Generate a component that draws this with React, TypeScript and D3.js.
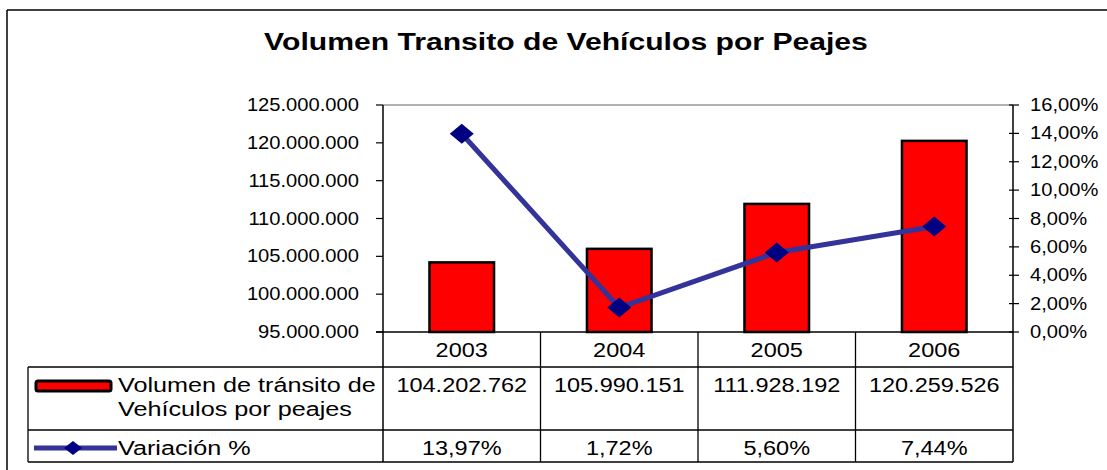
import React from 'react';
import { scaleBand, scaleLinear, line, formatLocale } from 'd3';

const years = ['2003', '2004', '2005', '2006'];
const volumen = [104202762, 105990151, 111928192, 120259526];
const variacion = [13.97, 1.72, 5.6, 7.44];
const leftTicks = [95e6, 100e6, 105e6, 110e6, 115e6, 120e6, 125e6];
const rightTicks = [0, 2, 4, 6, 8, 10, 12, 14, 16];

const title = 'Volumen Transito de Vehículos por Peajes';
const serieBar = ['Volumen de tránsito de', 'Vehículos por peajes'];
const serieLine = 'Variación %';

const es = formatLocale({
  decimal: ',',
  thousands: '.',
  grouping: [3],
  currency: ['$', ''],
});
const fmtInt = es.format(',d');
const fmtPct = (v) => es.format('.2f')(v) + '%';

const FONT = 'Arial, "Liberation Sans", Helvetica, sans-serif';

// text stretched horizontally around its anchor, like the source image
const T = ({ x, y, size, sx = 1.12, anchor = 'start', bold = false, children }) => (
  <text
    transform={`translate(${x},${y}) scale(${sx},1)`}
    textAnchor={anchor}
    fontFamily={FONT}
    fontSize={size}
    fontWeight={bold ? 'bold' : 'normal'}
    fill="#000"
  >
    {children}
  </text>
);

const Diamond = ({ cx, cy, rx, ry }) => (
  <path
    d={`M${cx - rx},${cy} L${cx},${cy - ry} L${cx + rx},${cy} L${cx},${cy + ry} Z`}
    fill="#000080"
  />
);

export default function App() {
  const W = 1107;
  const H = 470;
  const left = 383;
  const right = 1013;
  const top = 105;
  const bottom = 332;

  const x = scaleBand().domain(years).range([left, right]).padding(0);
  const yL = scaleLinear().domain([95e6, 125e6]).range([bottom, top]);
  const yR = scaleLinear().domain([0, 16]).range([bottom, top]);
  const barW = x.bandwidth() * 0.41;
  const cx = (d) => x(d) + x.bandwidth() / 2;

  const pts = years.map((d, i) => [cx(d), yR(variacion[i])]);
  const linePath = line()(pts);

  const rowHead = 367;
  const row1 = 430;
  const tBottom = 462;
  const tLeft = 28;

  return (
    <div style={{ position: 'absolute', left: 0, top: 0 }}>
      <svg width={W} height={H} style={{ display: 'block', background: '#fff' }}>
        {/* outer frame */}
        <line x1={7} y1={10} x2={W} y2={10} stroke="#000" strokeWidth={1.5} />
        <line x1={7} y1={10} x2={7} y2={H} stroke="#000" strokeWidth={1.5} />

        <T x={566} y={50} size={23} sx={1.31} anchor="middle" bold>
          {title}
        </T>

        {/* plot frame top */}
        <line x1={left} y1={top} x2={right} y2={top} stroke="#999" strokeWidth={1.5} />

        {/* bars */}
        {years.map((d, i) => (
          <rect
            key={d}
            x={cx(d) - barW / 2}
            y={yL(volumen[i])}
            width={barW}
            height={bottom - yL(volumen[i])}
            fill="#ff0000"
            stroke="#000"
            strokeWidth={2.5}
          />
        ))}

        {/* left axis */}
        <line x1={left} y1={top} x2={left} y2={tBottom} stroke="#000" strokeWidth={1.5} />
        {leftTicks.map((t) => (
          <g key={t}>
            <line x1={left - 7} x2={left} y1={yL(t)} y2={yL(t)} stroke="#000" strokeWidth={1.2} />
            <T x={359} y={yL(t) + 6} size={18} anchor="end">
              {fmtInt(t)}
            </T>
          </g>
        ))}

        {/* right axis */}
        <line x1={right} y1={top} x2={right} y2={tBottom} stroke="#000" strokeWidth={1.5} />
        {rightTicks.map((t) => (
          <g key={t}>
            <line x1={right - 4} x2={right + 6} y1={yR(t)} y2={yR(t)} stroke="#000" strokeWidth={1.2} />
            <T x={1030} y={yR(t) + 6} size={18}>
              {fmtPct(t)}
            </T>
          </g>
        ))}

        {/* x axis / table top */}
        <line x1={left - 7} y1={bottom} x2={right} y2={bottom} stroke="#000" strokeWidth={1.5} />

        {/* line series */}
        <path d={linePath} fill="none" stroke="#333399" strokeWidth={5} />
        {pts.map((p, i) => (
          <Diamond key={i} cx={p[0]} cy={p[1]} rx={12} ry={10} />
        ))}

        {/* data table */}
        {[rowHead, row1, tBottom].map((yy) => (
          <line key={yy} x1={tLeft} y1={yy} x2={right} y2={yy} stroke="#000" strokeWidth={1.3} />
        ))}
        <line x1={tLeft} y1={rowHead} x2={tLeft} y2={tBottom} stroke="#000" strokeWidth={1.3} />
        {years.slice(1).map((d) => (
          <line key={d} x1={x(d)} y1={bottom} x2={x(d)} y2={tBottom} stroke="#000" strokeWidth={1.3} />
        ))}

        {years.map((d, i) => (
          <g key={d}>
            <T x={cx(d)} y={357} size={21} anchor="middle">
              {d}
            </T>
            <T x={cx(d)} y={392} size={21} anchor="middle">
              {fmtInt(volumen[i])}
            </T>
            <T x={cx(d)} y={455} size={21} anchor="middle">
              {fmtPct(variacion[i])}
            </T>
          </g>
        ))}

        {/* legend keys */}
        <rect x={36} y={381} width={75} height={10} rx={2} fill="#ff0000" stroke="#000" strokeWidth={3} />
        <T x={118} y={392} size={21} sx={1.2}>
          {serieBar[0]}
        </T>
        <T x={118} y={416} size={21} sx={1.2}>
          {serieBar[1]}
        </T>
        <line x1={34} y1={448} x2={117} y2={448} stroke="#333399" strokeWidth={5} />
        <Diamond cx={73} cy={448} rx={9} ry={7} />
        <T x={118} y={455} size={21} sx={1.2}>
          {serieLine}
        </T>
      </svg>
    </div>
  );
}
